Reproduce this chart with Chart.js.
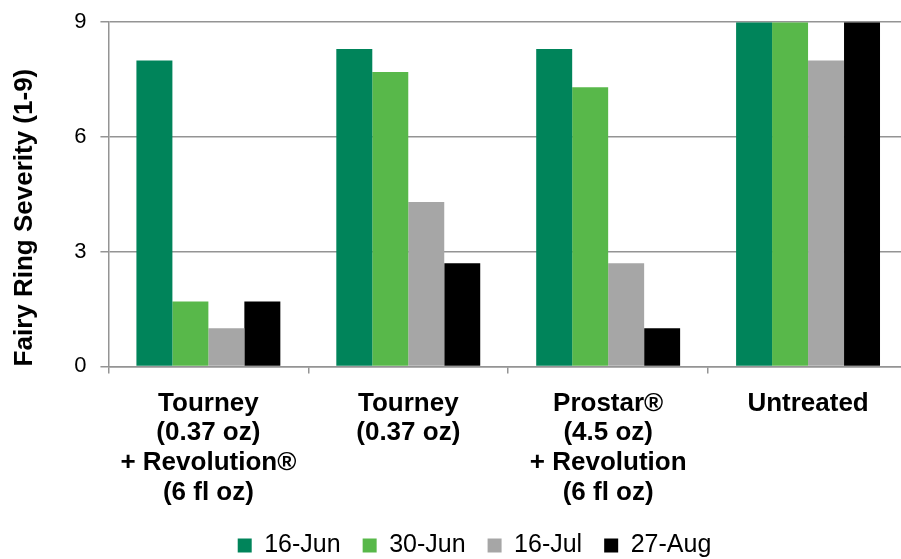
<!DOCTYPE html>
<html>
<head>
<meta charset="utf-8">
<script src="https://cdn.jsdelivr.net/npm/chart.js@4.4.1/dist/chart.umd.min.js"></script>
<style>
  html, body { margin: 0; padding: 0; background: #fff; overflow: hidden; }
  /* top tick label reserves a few px above the plot; pull the canvas up */
  #wrap { width: 910px; height: 564px; margin-top: -5px; position: relative; }
</style>
</head>
<body>
<div id="wrap"><canvas id="chart"></canvas></div>
<script>
// ── Data ────────────────────────────────────────────────
const categories = [
  ["Tourney", "(0.37 oz)", "+ Revolution®", "(6 fl oz)"],
  ["Tourney", "(0.37 oz)"],
  ["Prostar®", "(4.5 oz)", "+ Revolution", "(6 fl oz)"],
  ["Untreated"]
];
const seriesNames = ["16-Jun", "30-Jun", "16-Jul", "27-Aug"];
const jun16 = [8.0, 8.3, 8.3, 9.0];
const jun30 = [1.7, 7.7, 7.3, 9.0];
const jul16 = [1.0, 4.3, 2.7, 8.0];
const aug27 = [1.7, 2.7, 1.0, 9.0];
const yTicks = [0, 3, 6, 9];

const colors = ["#00845A", "#58B84A", "#A6A6A6", "#000000"];
const gridGray = "#949494";
const FONT = "'Liberation Sans', Arial, sans-serif";

// ── Chart ───────────────────────────────────────────────
const ctx = document.getElementById("chart").getContext("2d");

// nudge the legend a little right of the canvas centre
const legendShift = {
  id: "legendShift",
  afterLayout(chart) { chart.legend.left += 32; }
};

new Chart(ctx, {
  type: "bar",
  data: {
    labels: categories,
    datasets: [jun16, jun30, jul16, aug27].map((vals, i) => ({
      label: seriesNames[i],
      data: vals,
      backgroundColor: colors[i],
      borderWidth: 0,
      categoryPercentage: 0.72,
      barPercentage: 1.0
    }))
  },
  plugins: [legendShift],
  options: {
    responsive: true,
    maintainAspectRatio: false,
    animation: false,
    layout: { padding: { top: 6, right: 2, left: 9, bottom: -9 } },
    scales: {
      x: {
        // labels sit a bit closer to the legend than the axis box allows
        afterFit: (scale) => { scale.height -= 12; },
        grid: {
          drawOnChartArea: false,
          drawTicks: true,
          tickLength: 7,
          color: gridGray,
          lineWidth: 1.5
        },
        border: { color: gridGray, width: 1.5 },
        ticks: {
          color: "#000",
          maxRotation: 0,
          autoSkip: false,
          padding: 15,
          font: { family: FONT, size: 26, weight: "bold", lineHeight: 1.15 }
        }
      },
      y: {
        min: 0,
        max: 9,
        afterBuildTicks: (axis) => { axis.ticks = yTicks.map(v => ({ value: v })); },
        grid: {
          color: gridGray,
          lineWidth: 1.5,
          drawTicks: true,
          tickLength: 8
        },
        border: { color: gridGray, width: 1.5 },
        ticks: {
          color: "#000",
          padding: 14,
          font: { family: FONT, size: 22 }
        },
        title: {
          display: true,
          text: "Fairy Ring Severity (1-9)",
          color: "#000",
          align: "start",
          padding: { top: 0, bottom: 20 },
          font: { family: FONT, size: 26, weight: "bold" }
        }
      }
    },
    plugins: {
      legend: {
        position: "bottom",
        labels: {
          color: "#000",
          boxWidth: 14,
          boxHeight: 14,
          padding: 22,
          font: { family: FONT, size: 25 }
        }
      },
      tooltip: { enabled: false }
    }
  }
});
</script>
</body>
</html>
